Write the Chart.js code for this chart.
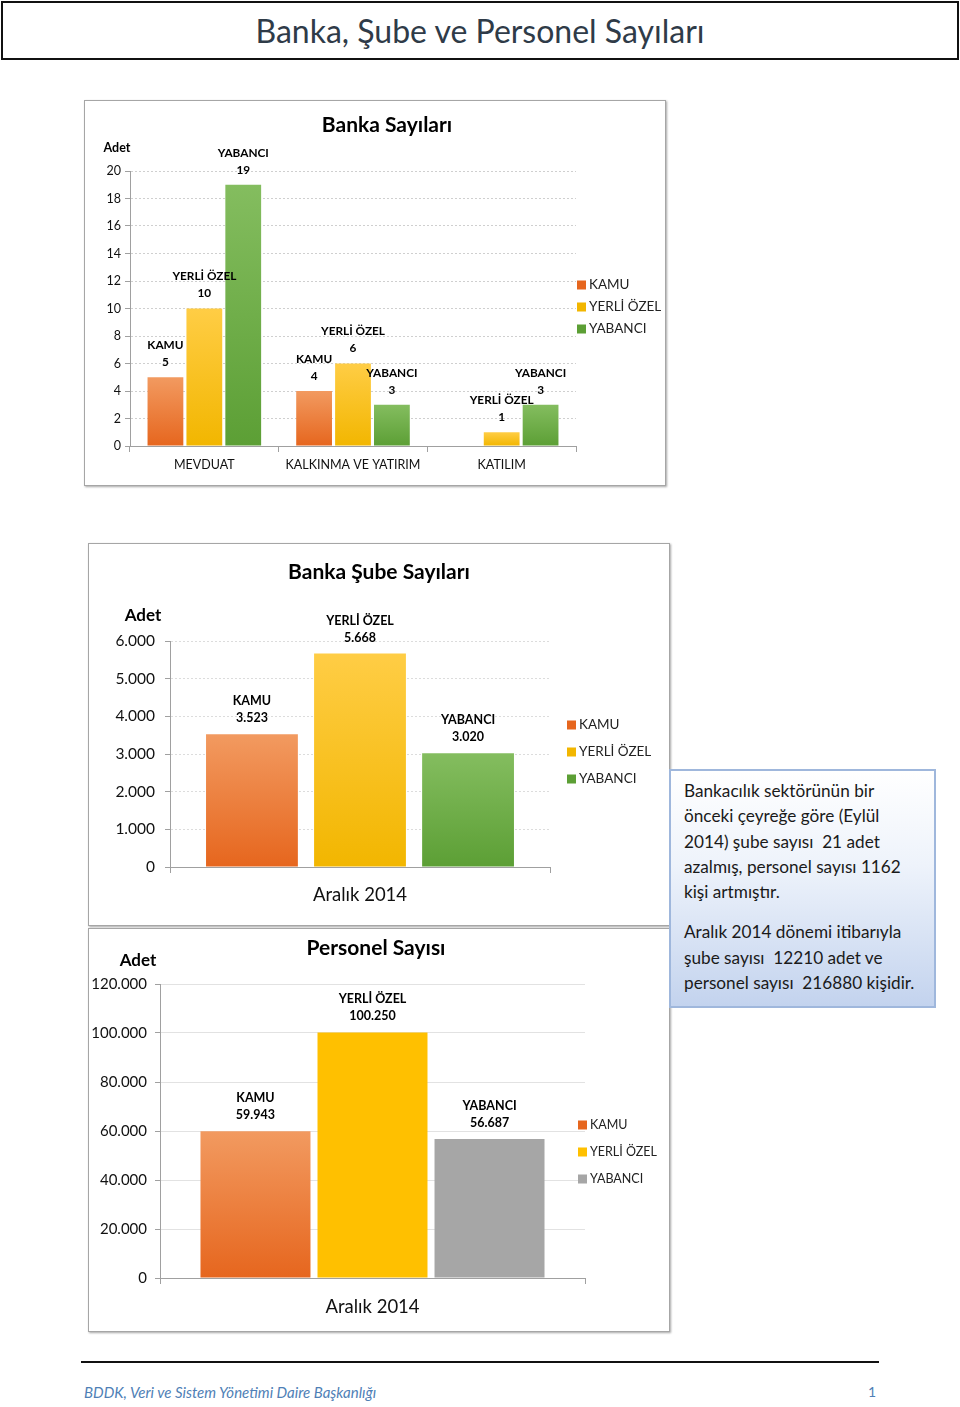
<!DOCTYPE html>
<html lang="tr">
<head>
<meta charset="utf-8">
<title>Banka, Şube ve Personel Sayıları</title>
<script src="https://cdn.jsdelivr.net/npm/chart.js@4"></script>
<style>
  html, body { margin: 0; padding: 0; background: #fff; }
  body { width: 960px; height: 1407px; position: relative; overflow: hidden; font-family: Lato, "Open Sans", sans-serif; }
  .abs { position: absolute; }
  #pageTitle { left: 1px; top: 1px; width: 954px; height: 55px; border: 2px solid #111; text-align: center;
    font-size: 32px; line-height: 56px; color: #2f3b48; }
  .box { border: 1px solid #a6a6a6; box-shadow: 1px 1px 2px rgba(0,0,0,0.35); background: #fff; }
  #note { left: 669px; top: 769px; width: 236px; height: 220px; border: 2px solid #9fb7dc;
    background: linear-gradient(to bottom, #ffffff 0%, #eef3fb 40%, #c3d3ee 100%);
    padding: 7px 14px 8px 13px; font-size: 17.2px; line-height: 25.3px; color: #1a1a1a; white-space: nowrap; }
  #note p { margin: 0 0 15px 0; }
  #footLine { left: 81px; top: 1361px; width: 798px; height: 0; border-top: 2px solid #111; }
  #footText { left: 84px; top: 1383px; font-size: 15px; font-style: italic; color: #4f7fb6; }
  #footPage { left: 860px; top: 1383px; width: 16px; text-align: right; font-size: 14px; color: #4f7fb6; }
</style>
</head>
<body>
<div id="pageTitle" class="abs">Banka, Şube ve Personel Sayıları</div>

<div class="abs box" style="left:84px;top:100px;width:580px;height:384px;"></div>
<canvas id="bankChart" class="abs" style="left:84px;top:100px;"></canvas>

<div class="abs box" style="left:88px;top:543px;width:580px;height:381px;"></div>
<canvas id="subeChart" class="abs" style="left:88px;top:543px;"></canvas>

<div class="abs box" style="left:88px;top:928px;width:580px;height:402px;"></div>
<canvas id="personelChart" class="abs" style="left:88px;top:928px;"></canvas>

<div id="note" class="abs">
  <p>Bankacılık sektörünün bir<br>önceki çeyreğe göre (Eylül<br>2014) şube sayısı&nbsp; 21 adet<br>azalmış, personel sayısı 1162<br>kişi artmıştır.</p>
  <p>Aralık 2014 dönemi itibarıyla<br>şube sayısı&nbsp; 12210 adet ve<br>personel sayısı&nbsp; 216880 kişidir.</p>
</div>

<div id="footLine" class="abs"></div>
<div id="footText" class="abs">BDDK, Veri ve Sistem Yönetimi Daire Başkanlığı</div>
<div id="footPage" class="abs">1</div>

<script>
// Data
const groupNames = ['KAMU', 'YERLİ ÖZEL', 'YABANCI'];

const bankCategories = ['MEVDUAT', 'KALKINMA VE YATIRIM', 'KATILIM'];
const bankKamu = [5, 4, 0];
const bankYerli = [10, 6, 1];
const bankYabanci = [19, 3, 3];

const periodLabels = ['Aralık 2014'];
const subeKamu = [3523];
const subeYerli = [5668];
const subeYabanci = [3020];

const personelKamu = [59943];
const personelYerli = [100250];
const personelYabanci = [56687];

// Axis ranges
const bankAxis = { max: 20, step: 2 };
const subeAxis = { max: 6000, step: 1000 };
const personelAxis = { max: 120000, step: 20000 };

const FONT = 'Lato, "Open Sans", sans-serif';

// Colours (top, bottom of the bar gradient)
const ORANGE = ['#f29a60', '#e6661e'];
const YELLOW = ['#ffcd45', '#f2b600'];
const GREEN = ['#84bd5f', '#5c9f35'];
const GRAY = ['#a6a6a6', '#a6a6a6'];
const YELLOW_FLAT = ['#ffc000', '#ffc000'];

// Format numbers with a dot as thousands separator
function fmt(v) {
  return String(v).replace(/\B(?=(\d{3})+(?!\d))/g, '.');
}

// Vertical gradient from the bar top down to the base
function barFill(colors) {
  return (c) => {
    const chart = c.chart;
    if (!chart.chartArea || c.type !== 'data' || !c.parsed) return colors[1];
    const y = chart.scales.y;
    const y0 = y.getPixelForValue(c.parsed.y);
    const y1 = y.getPixelForValue(0);
    if (!isFinite(y0) || !isFinite(y1) || y0 === y1) return colors[1];
    const g = chart.ctx.createLinearGradient(0, y0, 0, y1);
    g.addColorStop(0, colors[0]);
    g.addColorStop(1, colors[1]);
    return g;
  };
}

// Two line labels above each bar: series name + value
const barLabels = {
  id: 'barLabels',
  afterDatasetsDraw(chart, args, o) {
    const ctx = chart.ctx;
    ctx.save();
    ctx.font = `bold ${o.size}px ${FONT}`;
    ctx.fillStyle = '#000';
    ctx.textAlign = 'center';
    ctx.textBaseline = 'middle';
    chart.data.datasets.forEach((ds, i) => {
      const meta = chart.getDatasetMeta(i);
      meta.data.forEach((bar, j) => {
        const v = ds.data[j];
        if (!v) return;
        ctx.fillText(ds.label, bar.x, bar.y - o.gap - o.lineHeight);
        ctx.fillText(fmt(v), bar.x, bar.y - o.gap);
      });
    });
    ctx.restore();
  }
};

// Chart title, unit label and legend
const decor = {
  id: 'decor',
  afterDraw(chart, args, o) {
    const ctx = chart.ctx;
    const area = chart.chartArea;
    ctx.save();
    ctx.fillStyle = '#000';
    ctx.textBaseline = 'middle';
    ctx.textAlign = 'center';
    ctx.font = `bold ${o.titleSize}px ${FONT}`;
    ctx.fillText(o.title, o.titleX, o.titleY);
    ctx.font = `bold ${o.unitSize}px ${FONT}`;
    ctx.fillText('Adet', o.unitX, o.unitY);

    ctx.textAlign = 'left';
    ctx.font = `${o.legendSize}px ${FONT}`;
    chart.data.datasets.forEach((ds, i) => {
      const y = o.legendY + i * o.legendGap;
      const x = area.right + o.legendDx;
      ctx.fillStyle = ds.swatch;
      ctx.fillRect(x, y - 4.5, 9, 9);
      ctx.fillStyle = '#222';
      ctx.fillText(ds.label, x + 12, y);
    });
    ctx.restore();
  }
};

function makeChart(id, cfg) {
  const canvas = document.getElementById(id);
  canvas.width = cfg.width;
  canvas.height = cfg.height;
  canvas.style.width = cfg.width + 'px';
  canvas.style.height = cfg.height + 'px';
  const a = cfg.area;
  const series = [cfg.kamu, cfg.yerli, cfg.yabanci];
  return new Chart(canvas.getContext('2d'), {
    type: 'bar',
    data: {
      labels: cfg.labels,
      datasets: series.map((data, i) => ({
        label: groupNames[i],
        data: data,
        backgroundColor: barFill(cfg.colors[i]),
        swatch: cfg.colors[i][1],
        borderWidth: 0,
        categoryPercentage: cfg.catPct,
        barPercentage: cfg.barPct,
      })),
    },
    options: {
      responsive: false,
      animation: false,
      devicePixelRatio: 1,
      layout: { padding: { left: 0, top: a.top, right: cfg.width - a.right, bottom: 0 } },
      scales: {
        x: {
          grid: { display: true, drawOnChartArea: false, drawTicks: true, tickLength: 6, offset: true,
                  color: '#a0a0a0', tickColor: '#a0a0a0' },
          border: { color: '#a0a0a0', width: 1 },
          ticks: { color: '#111', padding: cfg.xPad, font: { family: FONT, size: cfg.xSize } },
          afterFit: (s) => { s.height = cfg.height - a.bottom; },
        },
        y: {
          min: 0,
          max: cfg.axis.max,
          grid: {
            color: (c) => (c.tick && c.tick.value === 0 ? 'rgba(0,0,0,0)' : cfg.gridColor),
            tickColor: '#a0a0a0', tickLength: 5, tickBorderDash: [],
          },
          border: { color: '#a0a0a0', width: 1, dash: cfg.gridDash },
          ticks: {
            stepSize: cfg.axis.step,
            color: '#111',
            padding: cfg.yPad,
            font: { family: FONT, size: cfg.ySize },
            callback: (v) => fmt(v),
          },
          afterFit: (s) => { s.width = a.left; },
        },
      },
      plugins: {
        legend: { display: false },
        title: { display: false },
        tooltip: { enabled: false },
        barLabels: cfg.labelOpts,
        decor: cfg.decor,
      },
    },
    plugins: [barLabels, decor],
  });
}

// Banka Sayıları
makeChart('bankChart', {
  width: 582, height: 386,
  area: { left: 46, right: 492, top: 71, bottom: 346 },
  labels: bankCategories, kamu: bankKamu, yerli: bankYerli, yabanci: bankYabanci,
  colors: [ORANGE, YELLOW, GREEN],
  axis: bankAxis, catPct: 0.785, barPct: 0.92,
  gridColor: '#cfcfcf', gridDash: [2, 2],
  xPad: 5, xSize: 12.5, yPad: 4, ySize: 12.5,
  labelOpts: { size: 11.8, gap: 15, lineHeight: 17 },
  decor: { title: 'Banka Sayıları', titleSize: 21, titleX: 303, titleY: 25,
           unitSize: 12.5, unitX: 33, unitY: 48,
           legendSize: 13.5, legendDx: 1, legendY: 185, legendGap: 22 },
});

// Banka Şube Sayıları
makeChart('subeChart', {
  width: 582, height: 383,
  area: { left: 82, right: 462, top: 98, bottom: 324 },
  labels: periodLabels, kamu: subeKamu, yerli: subeYerli, yabanci: subeYabanci,
  colors: [ORANGE, YELLOW, GREEN],
  axis: subeAxis, catPct: 0.853, barPct: 0.85,
  gridColor: '#dcdcdc', gridDash: [2, 2],
  xPad: 11, xSize: 18.5, yPad: 10, ySize: 15.5,
  labelOpts: { size: 12.5, gap: 16, lineHeight: 17 },
  decor: { title: 'Banka Şube Sayıları', titleSize: 21, titleX: 291, titleY: 29,
           unitSize: 17, unitX: 55, unitY: 73,
           legendSize: 13.5, legendDx: 17, legendY: 182, legendGap: 27 },
});

// Personel Sayısı
makeChart('personelChart', {
  width: 582, height: 404,
  area: { left: 72, right: 497, top: 56, bottom: 350 },
  labels: periodLabels, kamu: personelKamu, yerli: personelYerli, yabanci: personelYabanci,
  colors: [ORANGE, YELLOW_FLAT, GRAY],
  axis: personelAxis, catPct: 0.826, barPct: 0.94,
  gridColor: '#e2e2e2', gridDash: [],
  xPad: 12, xSize: 18.5, yPad: 8, ySize: 15,
  labelOpts: { size: 12.5, gap: 16, lineHeight: 17 },
  decor: { title: 'Personel Sayısı', titleSize: 21, titleX: 288, titleY: 20,
           unitSize: 17, unitX: 50, unitY: 33,
           legendSize: 12.5, legendDx: -7, legendY: 197, legendGap: 27 },
});
</script>
</body>
</html>
